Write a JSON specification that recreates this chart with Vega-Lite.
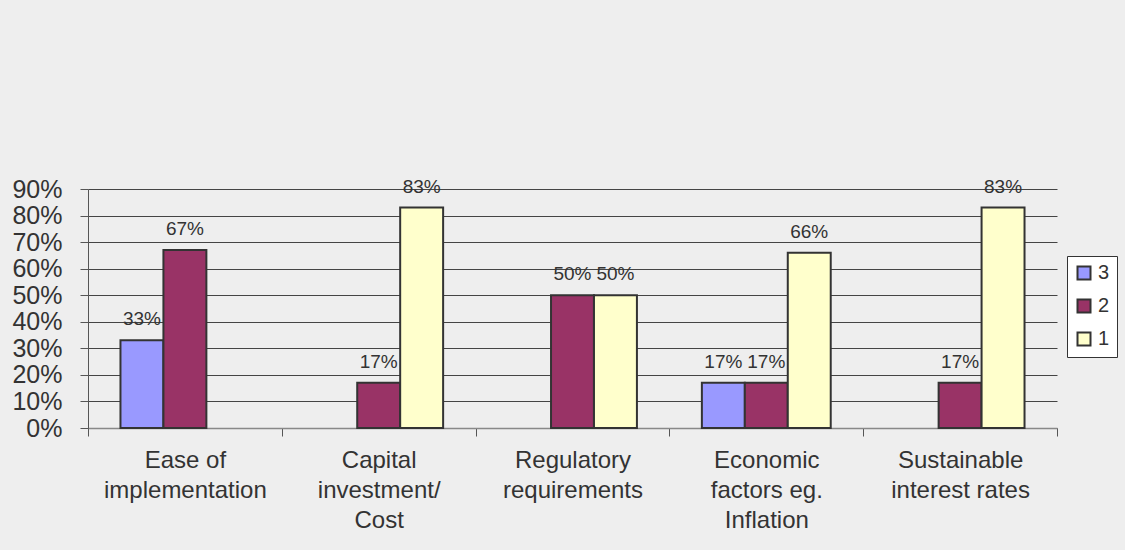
{
  "$schema": "https://vega.github.io/schema/vega-lite/v6.json",
  "autosize": {"type": "none"},
  "width": 969,
  "height": 239,
  "padding": {"left": 88, "top": 189, "right": 68, "bottom": 122},
  "background": "#EEEEEE",
  "config": {
    "view": {"stroke": null},
    "font": "Liberation Sans",
    "axis": {"labelFont": "Liberation Sans", "labelColor": "#333333", "titleFont": "Liberation Sans"}
  },
  "data": {
    "values": [
      {"factor": "Ease of|implementation", "rank": "3", "share": 0.33},
      {"factor": "Ease of|implementation", "rank": "2", "share": 0.67},
      {"factor": "Capital|investment/|Cost", "rank": "2", "share": 0.17},
      {"factor": "Capital|investment/|Cost", "rank": "1", "share": 0.83},
      {"factor": "Regulatory|requirements", "rank": "2", "share": 0.50},
      {"factor": "Regulatory|requirements", "rank": "1", "share": 0.50},
      {"factor": "Economic|factors eg.|Inflation", "rank": "3", "share": 0.17},
      {"factor": "Economic|factors eg.|Inflation", "rank": "2", "share": 0.17},
      {"factor": "Economic|factors eg.|Inflation", "rank": "1", "share": 0.66},
      {"factor": "Sustainable|interest rates", "rank": "2", "share": 0.17},
      {"factor": "Sustainable|interest rates", "rank": "1", "share": 0.83}
    ]
  },
  "encoding": {
    "x": {
      "field": "factor",
      "type": "nominal",
      "sort": null,
      "scale": {"paddingInner": 0, "paddingOuter": 0},
      "axis": {
        "title": null,
        "labelAngle": 0,
        "labelFontSize": 24,
        "labelLineHeight": 30,
        "labelExpr": "isString(datum.value) ? split(datum.value, '|') : ''",
        "labelPadding": 12,
        "labelBaseline": "top",
        "tickBand": "extent",
        "tickSize": 8,
        "tickColor": "#555555",
        "domainColor": "#888888",
        "domainWidth": 1.5,
        "grid": false
      }
    },
    "xOffset": {
      "field": "rank",
      "type": "nominal",
      "scale": {"domain": ["3", "2", "1"], "paddingInner": 0, "paddingOuter": 0.756}
    },
    "y": {
      "field": "share",
      "type": "quantitative",
      "scale": {"domain": [0, 0.9], "nice": false},
      "axis": {
        "title": null,
        "format": ".0%",
        "values": [0, 0.1, 0.2, 0.3, 0.4, 0.5, 0.6, 0.7, 0.8, 0.9],
        "labelFontSize": 25,
        "labelPadding": 18,
        "tickSize": 8,
        "tickColor": "#555555",
        "domainColor": "#555555",
        "grid": true,
        "gridColor": "#444444",
        "gridWidth": 1
      }
    }
  },
  "layer": [
    {
      "mark": {"type": "bar", "stroke": "#333333", "strokeWidth": 2},
      "encoding": {
        "color": {
          "field": "rank",
          "type": "nominal",
          "scale": {"domain": ["3", "2", "1"], "range": ["#9999FF", "#993366", "#FFFFCC"]},
          "legend": {
            "title": null,
            "orient": "none",
            "legendX": 979,
            "legendY": 67,
            "direction": "vertical",
            "padding": 7,
            "strokeColor": "#333333",
            "fillColor": "#FFFFFF",
            "symbolType": "square",
            "symbolSize": 169,
            "symbolStrokeColor": "#333333",
            "symbolStrokeWidth": 2,
            "symbolOpacity": 1,
            "labelFontSize": 20,
            "labelColor": "#333333",
            "labelFont": "Liberation Sans",
            "labelOffset": 4,
            "rowPadding": 11
          }
        }
      }
    },
    {
      "mark": {"type": "text", "baseline": "alphabetic", "dy": -15, "fontSize": 19, "color": "#333333", "font": "Liberation Sans"},
      "encoding": {
        "text": {"field": "share", "type": "quantitative", "format": ".0%"}
      }
    }
  ]
}
